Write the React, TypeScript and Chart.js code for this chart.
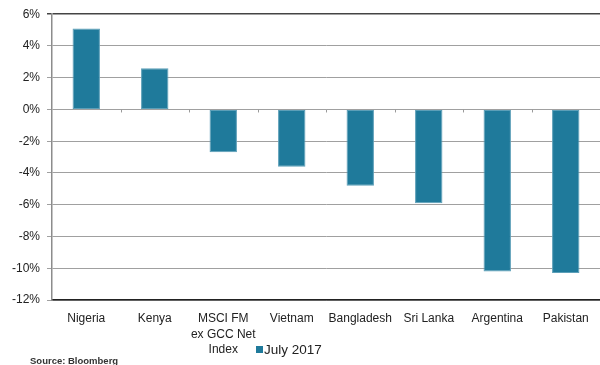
import React, { useEffect, useRef } from "react";
import { Chart, registerables } from "chart.js";

Chart.register(...registerables);

// Monthly returns by market
const categories: (string | string[])[] = [
  "Nigeria",
  "Kenya",
  ["MSCI FM", "ex GCC Net", "Index"],
  "Vietnam",
  "Bangladesh",
  "Sri Lanka",
  "Argentina",
  "Pakistan",
];
const july2017 = [5.1, 2.6, -2.7, -3.6, -4.8, -5.9, -10.2, -10.3];
const seriesLabel = "July 2017";
const sourceNote = "Source: Bloomberg";

const yMin = -12;
const yMax = 6;
const yStep = 2;

const BAR_COLOR = "#1f7a9b";
const FONT = "'Liberation Sans', Arial, sans-serif";

// Small tick marks along the zero line between categories
const zeroTicks = {
  id: "zeroTicks",
  afterDatasetsDraw(chart: any) {
    const { ctx, scales } = chart;
    const x = scales.x;
    const y = scales.y;
    const y0 = y.getPixelForValue(0);
    ctx.save();
    ctx.strokeStyle = "#9a9a9a";
    ctx.lineWidth = 1;
    for (let i = 1; i < categories.length; i++) {
      const px = Math.round((x.getPixelForValue(i - 1) + x.getPixelForValue(i)) / 2) + 0.5;
      ctx.beginPath();
      ctx.moveTo(px, y0);
      ctx.lineTo(px, y0 + 3);
      ctx.stroke();
    }
    ctx.restore();
  },
};

// Legend swatch and source note in the footer
const footer = {
  id: "footer",
  afterDraw(chart: any) {
    const { ctx } = chart;
    const ds = chart.data.datasets[0];
    ctx.save();
    ctx.fillStyle = ds.backgroundColor;
    ctx.fillRect(256, 346, 7, 7);
    ctx.fillStyle = "#222";
    ctx.font = `13.5px ${FONT}`;
    ctx.textBaseline = "middle";
    ctx.textAlign = "left";
    ctx.fillText(ds.label, 264, 350);
    ctx.font = `bold 9.5px ${FONT}`;
    ctx.fillStyle = "#333";
    ctx.fillText(sourceNote, 30, 361);
    ctx.restore();
  },
};

export default function App() {
  const canvasRef = useRef<HTMLCanvasElement | null>(null);

  useEffect(() => {
    if (!canvasRef.current) return;
    const chart = new Chart(canvasRef.current, {
      type: "bar",
      data: {
        labels: categories,
        datasets: [
          {
            label: seriesLabel,
            data: july2017,
            backgroundColor: BAR_COLOR,
            borderColor: "#5c9fb8",
            borderWidth: 1,
            borderSkipped: false,
            categoryPercentage: 0.8,
            barPercentage: 0.5,
          },
        ],
      },
      options: {
        animation: false,
        responsive: false,
        maintainAspectRatio: false,
        layout: { padding: { top: 11, right: -4, left: 0, bottom: 0 } },
        plugins: {
          legend: { display: false },
          tooltip: { enabled: false },
        },
        scales: {
          x: {
            grid: { display: false, drawTicks: false },
            border: { display: true, color: "#222", width: 1.5 },
            ticks: {
              color: "#222",
              font: { family: FONT, size: 12, lineHeight: 1.3 },
              padding: 11,
              maxRotation: 0,
              autoSkip: false,
            },
            afterFit(scale: any) {
              scale.height = 65;
            },
          },
          y: {
            min: yMin,
            max: yMax,
            grid: {
              color: (ctx: any) => (ctx.tick && ctx.tick.value === yMax ? "#444" : "#a0a0a0"),
              lineWidth: (ctx: any) => (ctx.tick && ctx.tick.value === yMax ? 1.5 : 1),
              tickLength: 5,
            },
            border: { display: true, color: "#8c8c8c", width: 1.5 },
            ticks: {
              stepSize: yStep,
              color: "#222",
              padding: 7,
              font: { family: FONT, size: 12 },
              callback: (v: any) => `${v}%`,
            },
            afterFit(scale: any) {
              scale.width = 52;
            },
          },
        },
      },
      plugins: [zeroTicks, footer],
    });
    return () => chart.destroy();
  }, []);

  return (
    <div style={{ position: "absolute", left: 0, top: 0, width: 600, height: 365, background: "#fff" }}>
      <canvas ref={canvasRef} width={600} height={365} />
    </div>
  );
}
